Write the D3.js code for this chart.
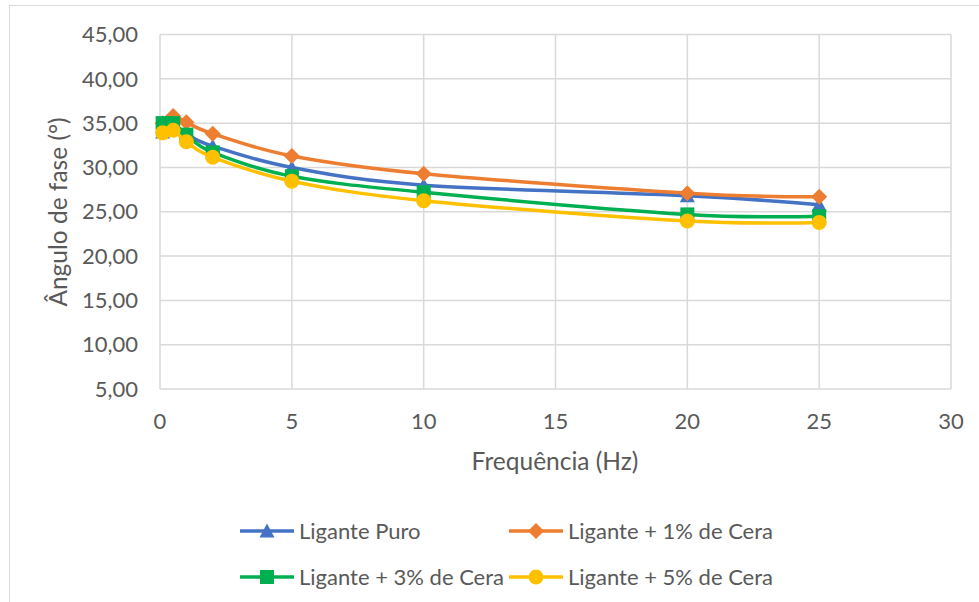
<!DOCTYPE html>
<html>
<head>
<meta charset="utf-8">
<script src="https://cdn.jsdelivr.net/npm/d3@7"></script>
<style>
html,body{margin:0;padding:0;background:#fff;}
svg{display:block;font-family:Lato,"Open Sans",sans-serif;}
</style>
</head>
<body>
<svg id="chart" width="979" height="602"></svg>
<script>
const frequencies = [0.1, 0.5, 1, 2, 5, 10, 20, 25];
const ligantePuro = [34.0, 34.8, 33.8, 32.4, 30.0, 28.0, 26.8, 25.8];
const ligante1 = [35.0, 35.8, 35.1, 33.8, 31.3, 29.3, 27.1, 26.7];
const ligante3 = [35.0, 35.0, 33.7, 31.7, 29.0, 27.2, 24.7, 24.5];
const ligante5 = [33.9, 34.2, 32.9, 31.15, 28.45, 26.25, 23.95, 23.8];
const seriesNames = ["Ligante Puro", "Ligante + 1% de Cera", "Ligante + 3% de Cera", "Ligante + 5% de Cera"];
const seriesColors = ["#4472C4", "#ED7D31", "#00B050", "#FFC000"];
const seriesMarkers = ["triangle", "diamond", "square", "circle"];
const xTicks = [0, 5, 10, 15, 20, 25, 30];
const yTicks = [5, 10, 15, 20, 25, 30, 35, 40, 45];

(function () {
const seriesValues = [ligantePuro, ligante1, ligante3, ligante5];
const series = seriesNames.map((name, i) => ({
  name, color: seriesColors[i], marker: seriesMarkers[i],
  points: frequencies.map((f, j) => ({x: f, y: seriesValues[i][j]}))
}));

const svg = d3.select("#chart");
const pL = 160, pR = 951, pT = 34.5, pB = 389;
const x = d3.scaleLinear().domain([0, 30]).range([pL, pR]);
const y = d3.scaleLinear().domain([5, 45]).range([pB, pT]);

svg.append("rect").attr("x", 9.5).attr("y", 5.5).attr("width", 1000).attr("height", 700)
  .attr("fill", "none").attr("stroke", "#d9d9d9").attr("stroke-width", 1);

const grid = "#d9d9d9";
svg.append("g").selectAll("line").data(yTicks).join("line")
  .attr("x1", pL).attr("x2", pR)
  .attr("y1", d => y(d)).attr("y2", d => y(d))
  .attr("stroke", grid).attr("stroke-width", 1.5);
svg.append("g").selectAll("line").data(xTicks).join("line")
  .attr("y1", pT).attr("y2", pB)
  .attr("x1", d => x(d)).attr("x2", d => x(d))
  .attr("stroke", grid).attr("stroke-width", 1.5);

const fmt = d => d3.format(".2f")(d).replace(".", ",");
svg.append("g").selectAll("text").data(yTicks).join("text")
  .attr("x", 138).attr("y", d => y(d)).attr("dy", "0.35em")
  .attr("text-anchor", "end").attr("fill", "#595959").attr("font-size", 22)
  .text(fmt);
svg.append("g").selectAll("text").data(xTicks).join("text")
  .attr("x", d => x(d)).attr("y", 421).attr("dy", "0.35em")
  .attr("text-anchor", "middle").attr("fill", "#595959").attr("font-size", 22)
  .text(d => d);

svg.append("text").attr("x", 555).attr("y", 461).attr("dy", "0.35em")
  .attr("text-anchor", "middle").attr("fill", "#595959").attr("font-size", 24.5)
  .text("Frequência (Hz)");
svg.append("text").attr("transform", "translate(58,212) rotate(-90)").attr("dy", "0.35em")
  .attr("text-anchor", "middle").attr("fill", "#595959").attr("font-size", 24.5)
  .text("Ângulo de fase (°)");

const line = d3.line().x(d => x(d.x)).y(d => y(d.y)).curve(d3.curveCardinal.tension(0));

function drawMarker(g, type, color, cx, cy) {
  if (type === "triangle") {
    g.append("path").attr("d", `M${cx},${cy-7.5}L${cx+7.5},${cy+6.5}L${cx-7.5},${cy+6.5}Z`).attr("fill", color);
  } else if (type === "diamond") {
    g.append("path").attr("d", `M${cx},${cy-8}L${cx+8},${cy}L${cx},${cy+8}L${cx-8},${cy}Z`).attr("fill", color);
  } else if (type === "square") {
    g.append("rect").attr("x", cx-7).attr("y", cy-7).attr("width", 14).attr("height", 14).attr("fill", color);
  } else {
    g.append("circle").attr("cx", cx).attr("cy", cy).attr("r", 7.5).attr("fill", color);
  }
}

series.forEach(s => {
  const g = svg.append("g");
  g.append("path").datum(s.points).attr("d", line)
    .attr("fill", "none").attr("stroke", s.color).attr("stroke-width", 3.5)
    .attr("stroke-linejoin", "round").attr("stroke-linecap", "round");
  s.points.forEach(p => drawMarker(g, s.marker, s.color, x(p.x), y(p.y)));
});

const legendPos = [[240, 531], [509, 531], [240, 577], [509, 577]];
series.forEach((s, i) => {
  const [lx, ly] = legendPos[i];
  const g = svg.append("g");
  g.append("line").attr("x1", lx).attr("x2", lx + 54).attr("y1", ly).attr("y2", ly)
    .attr("stroke", s.color).attr("stroke-width", 3.5);
  drawMarker(g, s.marker, s.color, lx + 27, ly);
  g.append("text").attr("x", lx + 59).attr("y", ly).attr("dy", "0.35em")
    .attr("fill", "#595959").attr("font-size", 22).text(s.name);
});
})();
</script>
</body>
</html>
